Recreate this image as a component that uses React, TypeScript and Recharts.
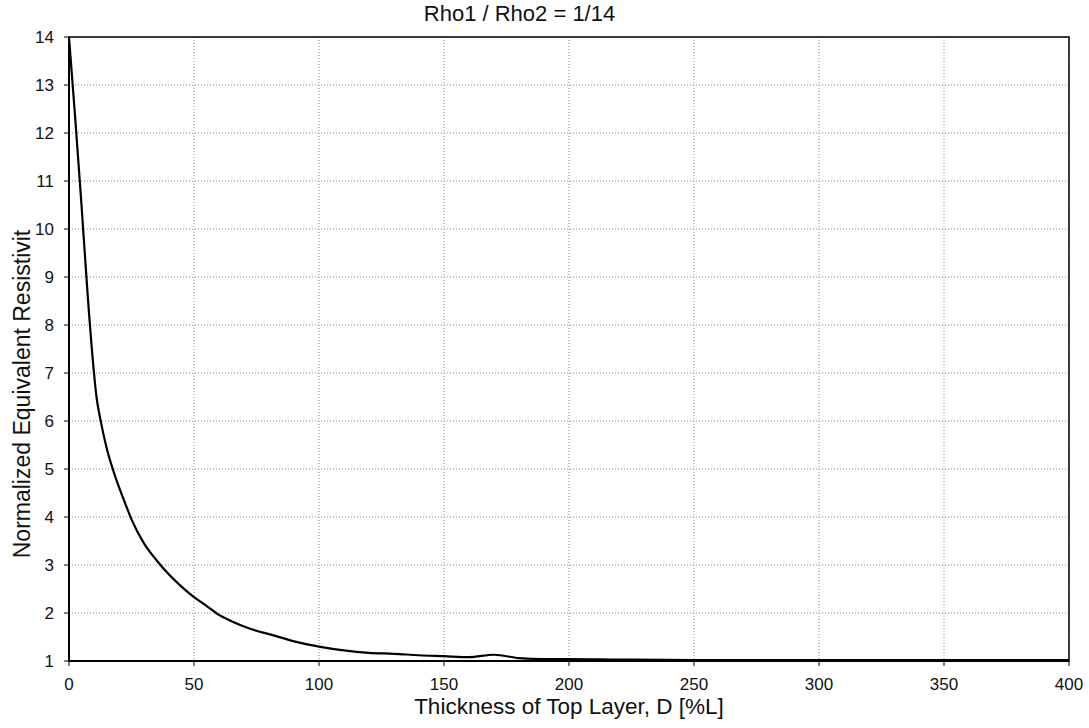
import React from 'react';
import { LineChart, Line, XAxis, YAxis, CartesianGrid, ReferenceArea, Label } from 'recharts';

// thickness of top layer, %L
const thickness = [0, 2.5, 5, 7.5, 10, 11, 12.5, 15, 17.5, 20, 22.5, 25, 30, 35, 40, 45, 50, 55, 60, 65, 70, 75, 80, 90, 100, 110, 120, 130, 140, 150, 160, 170, 180, 190, 200, 220, 250, 300, 350, 400];
// normalized equivalent resistivity
const resistivity = [14, 12.3, 10.5, 8.6, 7.0, 6.5, 6.05, 5.45, 5.0, 4.62, 4.28, 3.95, 3.45, 3.1, 2.8, 2.55, 2.33, 2.15, 1.96, 1.83, 1.72, 1.63, 1.56, 1.41, 1.3, 1.22, 1.17, 1.15, 1.12, 1.1, 1.08, 1.13, 1.06, 1.04, 1.04, 1.03, 1.02, 1.02, 1.02, 1.02];

const xTicks = [0, 50, 100, 150, 200, 250, 300, 350, 400];
const yTicks = [1, 2, 3, 4, 5, 6, 7, 8, 9, 10, 11, 12, 13, 14];

const data = thickness.map((d, i) => ({ d, r: resistivity[i] }));

const FONT = '"Liberation Sans", Arial, sans-serif';

export default function App() {
  return (
    <div style={{ position: 'absolute', left: 0, top: 0, width: 1089, height: 728, background: '#fff', fontFamily: FONT }}>
      <div style={{ position: 'absolute', left: 0, width: 1089, top: 1, textAlign: 'center', fontSize: 22, color: '#111', paddingRight: 50, boxSizing: 'border-box' }}>
        Rho1 / Rho2 = 1/14
      </div>
      <LineChart width={1089} height={728} data={data} margin={{ top: 37, right: 20, bottom: 0, left: 0 }}>
        <CartesianGrid stroke="#888" strokeDasharray="1 2" />
        <XAxis
          type="number"
          dataKey="d"
          domain={[0, 400]}
          ticks={xTicks}
          height={67}
          tickSize={5}
          tickMargin={12}
          axisLine={{ stroke: '#000', strokeWidth: 2 }}
          tickLine={{ stroke: '#000' }}
          tick={{ fill: '#111', fontSize: 17, fontFamily: FONT }}
        >
          <Label value="Thickness of Top Layer, D [%L]" position="insideBottom" offset={14} style={{ fill: '#111', fontSize: 22.5, fontFamily: FONT }} />
        </XAxis>
        <YAxis
          type="number"
          domain={[1, 14]}
          ticks={yTicks}
          width={69}
          tickSize={5}
          tickMargin={10}
          axisLine={{ stroke: '#000', strokeWidth: 2 }}
          tickLine={{ stroke: '#000' }}
          tick={{ fill: '#111', fontSize: 17, fontFamily: FONT }}
        >
          <Label
            content={() => (
              <text x={22} y={394} transform="rotate(-90 22 394)" textAnchor="middle" dominantBaseline="central" style={{ fill: '#111', fontSize: 23, fontFamily: FONT }}>
                Normalized Equivalent Resistivit
              </text>
            )}
          />
        </YAxis>
        <ReferenceArea x1={0} x2={400} y1={1} y2={14} fill="none" stroke="#000" strokeWidth={1.5} />
        <Line type="monotone" dataKey="r" stroke="#000" strokeWidth={2.2} dot={false} isAnimationActive={false} />
      </LineChart>
    </div>
  );
}
